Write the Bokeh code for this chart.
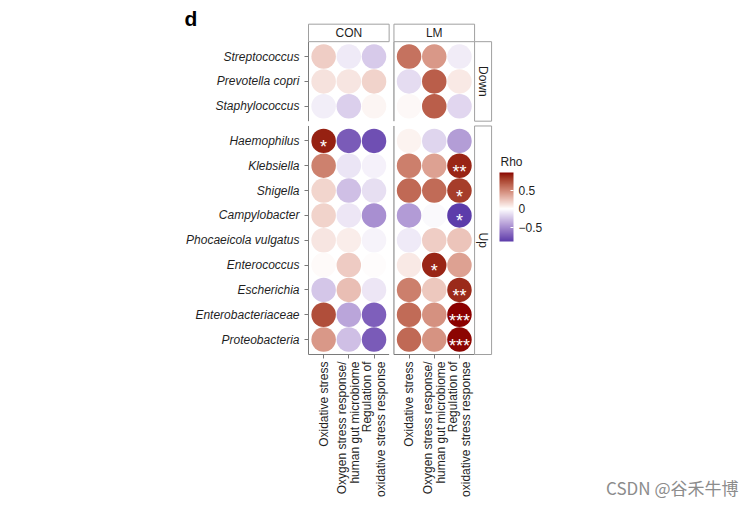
import math
from bokeh.plotting import figure
from bokeh.models import (ColumnDataSource, Range1d, FixedTicker, LinearColorMapper,
                          ColorBar, Label)
from bokeh.core.properties import value
from bokeh.embed import file_html
from bokeh.resources import INLINE

# ---------------- data ----------------
groups = ["CON", "LM"]
directions = ["Down", "Up"]
taxa_down = ["Streptococcus", "Prevotella copri", "Staphylococcus"]
taxa_up = ["Haemophilus", "Klebsiella", "Shigella", "Campylobacter",
           "Phocaeicola vulgatus", "Enterococcus", "Escherichia",
           "Enterobacteriaceae", "Proteobacteria"]
pathways = ["Oxidative stress",
            "Oxygen stress response/\nhuman gut microbiome",
            "Regulation of\noxidative stress response"]

# Spearman rho; rows follow taxa_down + taxa_up, columns follow pathways
rho_con = [
    [0.20, -0.09, -0.22],
    [0.12, 0.10, 0.18],
    [-0.07, -0.20, 0.04],
    [0.90, -0.72, -0.78],
    [0.52, -0.11, -0.06],
    [0.17, -0.27, -0.13],
    [0.18, -0.10, -0.48],
    [0.10, 0.07, -0.05],
    [0.02, 0.21, 0.01],
    [-0.24, 0.26, -0.10],
    [0.73, -0.38, -0.70],
    [0.42, -0.27, -0.72],
]
rho_lm = [
    [0.58, 0.42, -0.08],
    [-0.15, 0.66, 0.09],
    [0.03, 0.66, -0.17],
    [0.05, -0.18, -0.42],
    [0.53, 0.38, 0.88],
    [0.62, 0.61, 0.80],
    [-0.43, -0.03, -0.87],
    [-0.09, 0.20, 0.24],
    [0.09, 0.88, 0.38],
    [0.53, 0.22, 0.87],
    [0.61, 0.45, 0.97],
    [0.62, 0.44, 0.96],
]
sig_con = [
    ["", "", ""], ["", "", ""], ["", "", ""],
    ["*", "", ""], ["", "", ""], ["", "", ""], ["", "", ""],
    ["", "", ""], ["", "", ""], ["", "", ""], ["", "", ""], ["", "", ""],
]
sig_lm = [
    ["", "", ""], ["", "", ""], ["", "", ""],
    ["", "", ""], ["", "", "**"], ["", "", "*"], ["", "", "*"],
    ["", "", ""], ["", "*", ""], ["", "", "**"], ["", "", "***"], ["", "", "***"],
]
rho_ticks = [-0.5, 0.0, 0.5]
rho_tick_labels = ["\u22120.5", "0", "0.5"]

# ---------------- styling ----------------
FONT = "Liberation Sans"
TXT = "#1f1f1f"
AXC = "#7a7a7a"
STRIPC = "#a0a0a0"
LOW, MID, HIGH = "#4527A0", "#FFFFFF", "#8B0000"

# ---- Lab colour ramp (like ggplot's gradient2) ----
def _hex2rgb(h):
    h = h.lstrip("#")
    return [int(h[i:i + 2], 16) / 255 for i in (0, 2, 4)]

def _lin(c):
    return c / 12.92 if c <= 0.04045 else ((c + 0.055) / 1.055) ** 2.4

def _delin(c):
    c = max(0.0, min(1.0, c))
    return 12.92 * c if c <= 0.0031308 else 1.055 * c ** (1 / 2.4) - 0.055

WP = (0.95047, 1.0, 1.08883)

def _rgb2lab(rgb):
    r, g, b = [_lin(c) for c in rgb]
    X = 0.4124 * r + 0.3576 * g + 0.1805 * b
    Y = 0.2126 * r + 0.7152 * g + 0.0722 * b
    Z = 0.0193 * r + 0.1192 * g + 0.9505 * b
    def f(t):
        return t ** (1 / 3) if t > 0.008856 else 7.787 * t + 16 / 116
    fx, fy, fz = f(X / WP[0]), f(Y / WP[1]), f(Z / WP[2])
    return (116 * fy - 16, 500 * (fx - fy), 200 * (fy - fz))

def _lab2hex(lab):
    L, a, b = lab
    fy = (L + 16) / 116
    fx = fy + a / 500
    fz = fy - b / 200
    def fi(t):
        return t ** 3 if t ** 3 > 0.008856 else (t - 16 / 116) / 7.787
    X, Y, Z = fi(fx) * WP[0], fi(fy) * WP[1], fi(fz) * WP[2]
    r = 3.2406 * X - 1.5372 * Y - 0.4986 * Z
    g = -0.9689 * X + 1.8758 * Y + 0.0415 * Z
    bb = 0.0557 * X - 0.2040 * Y + 1.0570 * Z
    return "#%02x%02x%02x" % tuple(int(round(_delin(c) * 255)) for c in (r, g, bb))

def _ramp(c0, c1, c2, n=256):
    l0, l1, l2 = (_rgb2lab(_hex2rgb(c)) for c in (c0, c1, c2))
    out = []
    for k in range(n):
        t = k / (n - 1)
        if t < 0.5:
            s, a, b = t / 0.5, l0, l1
        else:
            s, a, b = (t - 0.5) / 0.5, l1, l2
        out.append(_lab2hex(tuple(a[i] + (b[i] - a[i]) * s for i in range(3))))
    return out

palette = _ramp(LOW, MID, HIGH)

# ---------------- geometry ----------------
# data units: 1 = one category step; origin = bottom-left corner of the CON/Up panel
W, H = 752, 503               # canvas (the frame covers all of it)
OX, OY = 308, 354             # pixel position of the data origin
UX, UY = 25.2, 24.84          # px per category step
PAD = 0.6                     # ggplot discrete expansion
GAPX, GAPY = 4.8 / UX, 4.8 / UY

ncol = len(pathways)
panel_w = ncol - 1 + 2 * PAD
lm_left = panel_w + GAPX
panel_left = [0.0, lm_left]

n_up, n_down = len(taxa_up), len(taxa_down)
up_h = n_up - 1 + 2 * PAD
down_h = n_down - 1 + 2 * PAD
down_bottom = up_h + GAPY
down_top = down_bottom + down_h

taxa = taxa_down + taxa_up
row_y = ([down_bottom + PAD + (n_down - 1 - i) for i in range(n_down)] +
         [PAD + (n_up - 1 - i) for i in range(n_up)])
col_x = [[panel_left[g] + PAD + j for j in range(ncol)] for g in range(len(groups))]

rmax = max(abs(v) for m in (rho_con, rho_lm) for r in m for v in r)
rlo = min(v for m in (rho_con, rho_lm) for r in m for v in r)

xs, ys, rs, ss = [], [], [], []
for g, (mat, sig) in enumerate([(rho_con, sig_con), (rho_lm, sig_lm)]):
    for i in range(len(taxa)):
        for j in range(ncol):
            xs.append(col_x[g][j]); ys.append(row_y[i])
            rs.append(mat[i][j]); ss.append(sig[i][j])
src = ColumnDataSource(dict(x=xs, y=ys, rho=rs, sig=ss))

mapper = LinearColorMapper(palette=palette, low=-rmax, high=rmax)

p = figure(width=W, height=H,
           x_range=Range1d(-OX / UX, (W - OX) / UX),
           y_range=Range1d((OY - H) / UY, OY / UY),
           output_backend="svg", toolbar_location=None,
           min_border_left=0, min_border_right=0, min_border_top=0,
           min_border_bottom=0)
p.outline_line_color = None
p.grid.visible = False
p.background_fill_color = "white"
p.border_fill_color = "white"

def px_x(v):
    return (v - OX) / UX

def px_y(v):
    return (OY - v) / UY

# panel axis lines (separate per facet panel)
for g in range(len(groups)):
    x0 = panel_left[g]
    p.line([x0, x0], [0, up_h], line_color=AXC, line_width=1)
    p.line([x0, x0], [down_bottom, down_top], line_color=AXC, line_width=1)
    p.line([panel_left[g], panel_left[g] + panel_w], [0, 0], line_color=AXC, line_width=1)

# facet strips
strip_h = 17.5 / UY
strip_w = 17.0 / UX
p.quad(left=panel_left, right=[l + panel_w for l in panel_left],
       bottom=[down_top] * 2, top=[down_top + strip_h] * 2,
       fill_color="white", line_color=STRIPC, line_width=1)
p.text(x=[l + panel_w / 2 for l in panel_left], y=[down_top + strip_h / 2] * 2,
       text=groups, text_font=value(FONT), text_font_size="12px", text_color=TXT,
       text_align="center", text_baseline="middle")
rx0 = lm_left + panel_w
p.quad(left=[rx0] * 2, right=[rx0 + strip_w] * 2,
       bottom=[down_bottom, 0], top=[down_top, up_h],
       fill_color="white", line_color=STRIPC, line_width=1)
p.text(x=[rx0 + strip_w / 2] * 2, y=[(down_bottom + down_top) / 2, up_h / 2],
       text=directions, angle=-math.pi / 2, text_font=value(FONT), text_font_size="12px",
       text_color=TXT, text_align="center", text_baseline="middle")

# dots
p.scatter(x="x", y="y", source=src, marker="circle", size=24.5,
          fill_color={"field": "rho", "transform": mapper}, line_color=None)
p.text(x="x", y="y", text="sig", source=src, text_color="white",
       text_font=value(FONT), text_font_size="18px", text_align="center",
       text_baseline="alphabetic", y_offset=6)

# axes (drawn at the panel edges, inside the full-canvas frame)
xa = p.xaxis[0]
xa.fixed_location = 0
xticks = [col_x[g][j] for g in range(len(groups)) for j in range(ncol)]
xa.ticker = FixedTicker(ticks=xticks)
xa.major_label_overrides = {col_x[g][j]: pathways[j]
                            for g in range(len(groups)) for j in range(ncol)}
xa.major_label_orientation = math.pi / 2
xa.axis_line_color = None
xa.major_tick_line_color = AXC
xa.major_tick_out = 4
xa.major_tick_in = 0
xa.minor_tick_line_color = None
xa.major_label_standoff = 3
xa.major_label_text_font = FONT
xa.major_label_text_font_size = "12px"
xa.major_label_text_color = TXT
xa.major_label_text_line_height = 0.95

ya = p.yaxis[0]
ya.fixed_location = 0
ya.ticker = FixedTicker(ticks=row_y)
ya.major_label_overrides = {row_y[i]: taxa[i] for i in range(len(taxa))}
ya.axis_line_color = None
ya.major_tick_line_color = AXC
ya.major_tick_out = 4
ya.major_tick_in = 0
ya.minor_tick_line_color = None
ya.major_label_standoff = 5
ya.major_label_text_font = FONT
ya.major_label_text_font_style = "italic"
ya.major_label_text_font_size = "12px"
ya.major_label_text_color = TXT

# colour bar
cb = ColorBar(color_mapper=mapper, location=(499, H - 241), width=14, height=69,
              padding=0, margin=0, title=None,
              ticker=FixedTicker(ticks=rho_ticks),
              major_label_overrides={t: l for t, l in zip(rho_ticks, rho_tick_labels)},
              major_label_text_font=FONT, major_label_text_font_size="12px",
              major_label_text_color=TXT, label_standoff=5,
              major_tick_line_color="white", major_tick_in=3, major_tick_out=0,
              minor_tick_line_color=None, bar_line_color=None,
              background_fill_color=None, border_line_color=None,
              display_low=rlo, display_high=rmax)
p.add_layout(cb, "center")
p.add_layout(Label(x=px_x(500), y=px_y(161), text="Rho", text_font=FONT,
                   text_font_size="12px", text_color=TXT, text_align="left",
                   text_baseline="alphabetic"))

# panel tag and watermark
p.add_layout(Label(x=px_x(184), y=px_y(17.5), text="d",
                   text_font=FONT, text_font_style="bold", text_font_size="21px",
                   text_color="#000000", text_align="left", text_baseline="alphabetic"))
p.add_layout(Label(x=px_x(738), y=px_y(487), text="CSDN @谷禾牛博",
                   text_font="Noto Sans CJK SC", text_font_size="17px",
                   text_color="#8c8c8c", text_align="right", text_baseline="alphabetic"))

with open("out.html", "w", encoding="utf-8") as f:
    f.write(file_html(p, INLINE))
